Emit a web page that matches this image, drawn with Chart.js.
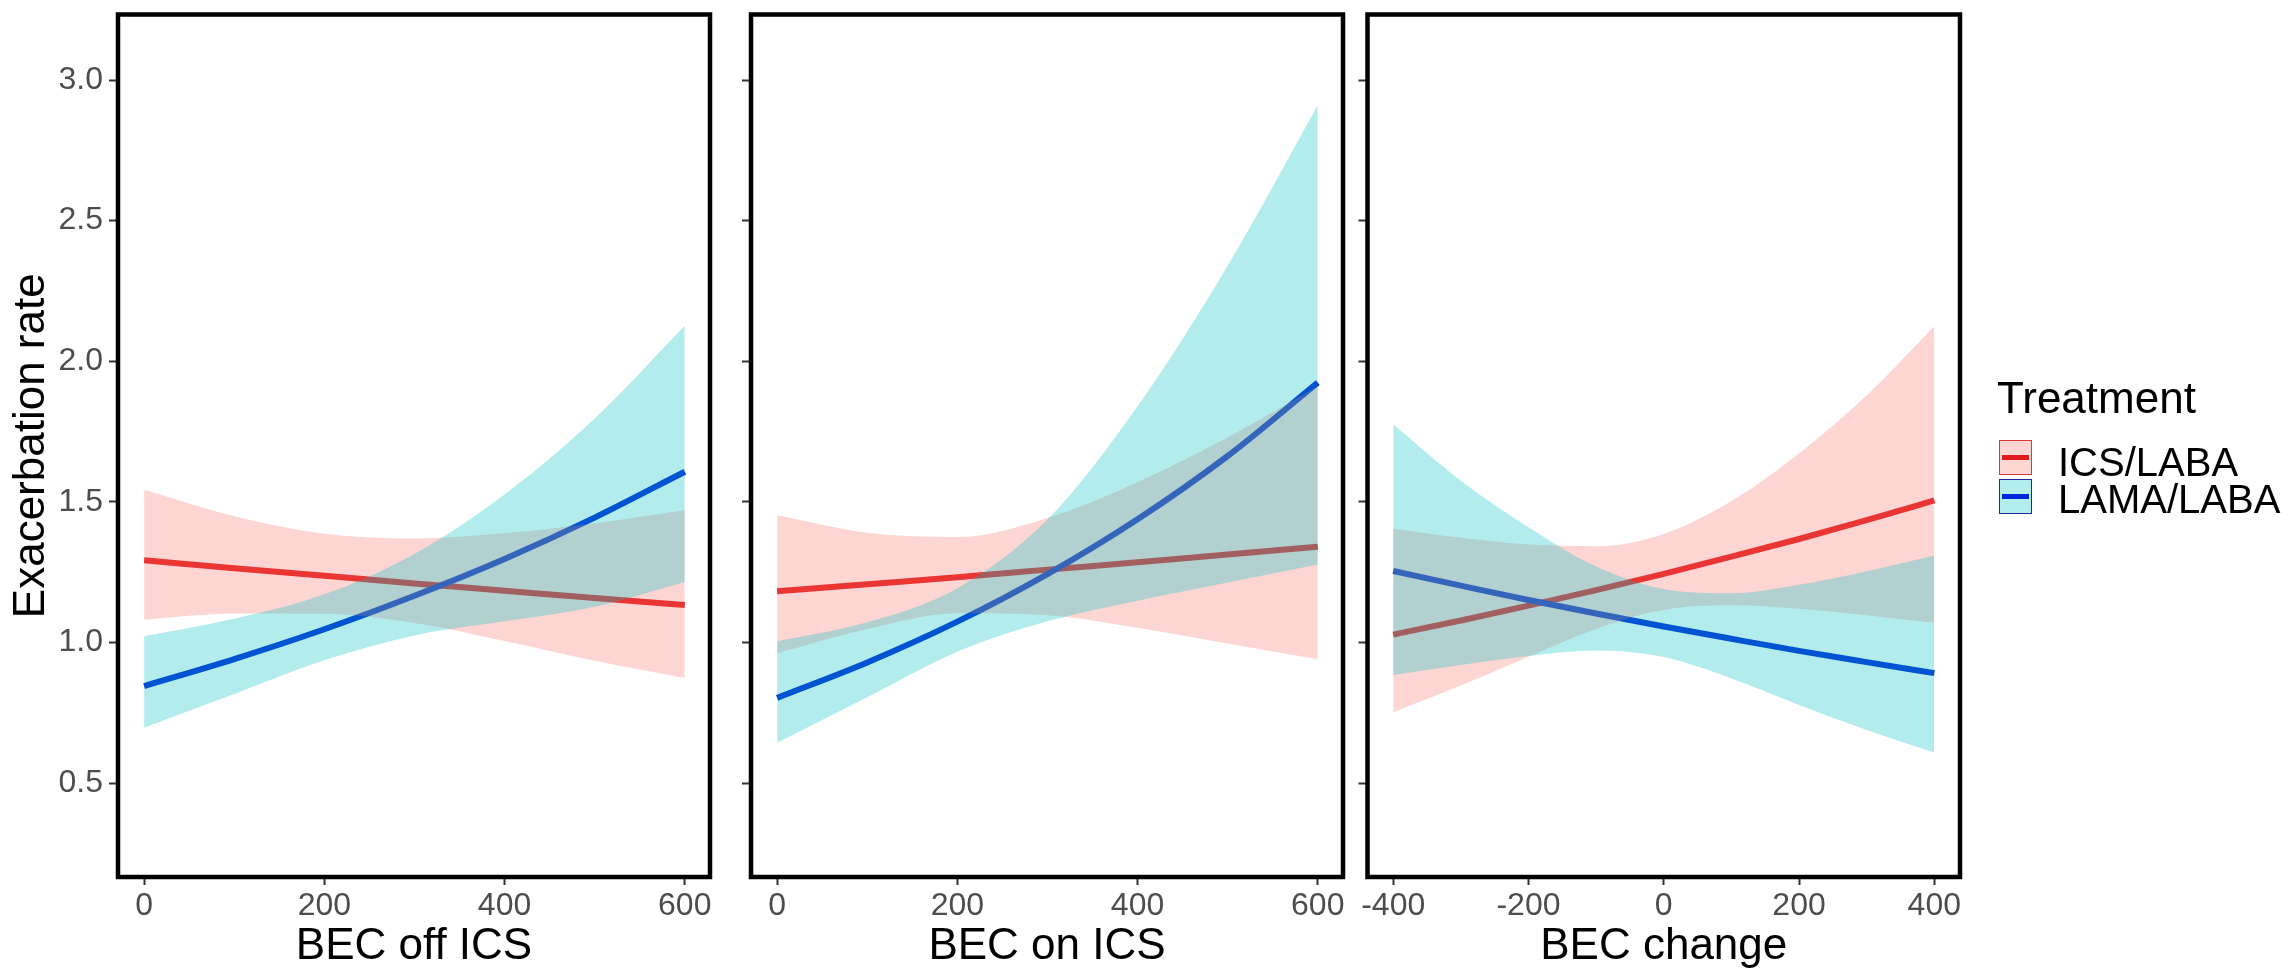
<!DOCTYPE html>
<html>
<head>
<meta charset="utf-8">
<script src="https://cdn.jsdelivr.net/npm/chart.js@4.4.1/dist/chart.umd.min.js"></script>
<style>
  html, body { margin: 0; padding: 0; background: #fff; overflow: hidden; }
  body { width: 2294px; height: 971px; position: relative; font-family: "Liberation Sans", Arial, sans-serif; }
  .pane { position: absolute; top: 0; height: 971px; }
  .leg-title { position: absolute; left: 1997px; top: 376px; font-size: 44px; line-height: 44px; color: #000; white-space: nowrap; }
  .leg-text { position: absolute; left: 2058px; font-size: 40px; line-height: 40px; color: #000; white-space: nowrap; }
  .leg-key { position: absolute; left: 1999px; width: 31px; height: 33px; box-sizing: content-box; }
  .leg-key span { position: absolute; left: 2px; right: 2px; top: 14px; height: 5px; }
</style>
</head>
<body>
<div class="pane" style="left:0px;width:730px"><canvas id="c1" width="730" height="971"></canvas></div>
<div class="pane" style="left:730px;width:620px"><canvas id="c2" width="620" height="971"></canvas></div>
<div class="pane" style="left:1350px;width:944px"><canvas id="c3" width="944" height="971"></canvas></div>

<div class="leg-title">Treatment</div>
<div class="leg-key" style="top:440px;background:rgb(253,214,211);border:1.5px solid #D83A3A"><span style="background:#E31A1C"></span></div>
<div class="leg-text" style="top:442px">ICS/LABA</div>
<div class="leg-key" style="top:479px;background:rgb(179,236,237);border:1.5px solid #1F2A9A"><span style="background:#0026D9"></span></div>
<div class="leg-text" style="top:479px">LAMA/LABA</div>

<script>
// ---------- data ----------
const seriesNames = ["ICS/LABA", "LAMA/LABA"];
const panelTitles = ["BEC off ICS", "BEC on ICS", "BEC change"];
const yTitle = "Exacerbation rate";

const xOn = [0, 100, 200, 300, 400, 500, 600];
const xChange = [-400, -300, -200, -100, 0, 100, 200, 300, 400];

const xTicksBEC = [0, 200, 400, 600];
const xTicksChange = [-400, -200, 0, 200, 400];
const yTicks = [0.5, 1.0, 1.5, 2.0, 2.5, 3.0];

// Panel 1: BEC off ICS
const icsFit1  = [1.292, 1.264, 1.237, 1.210, 1.184, 1.158, 1.133];
const icsLo1   = [1.081, 1.103, 1.102, 1.069, 1.005, 0.935, 0.874];
const icsHi1   = [1.543, 1.449, 1.387, 1.370, 1.388, 1.424, 1.470];
const lamaFit1 = [0.845, 0.941, 1.047, 1.166, 1.297, 1.444, 1.607];
const lamaLo1  = [0.697, 0.817, 0.937, 1.025, 1.075, 1.127, 1.215];
const lamaHi1  = [1.022, 1.084, 1.171, 1.315, 1.526, 1.796, 2.126];

// Panel 2: BEC on ICS
const icsFit2  = [1.182, 1.207, 1.232, 1.259, 1.285, 1.313, 1.340];
const icsLo2   = [0.962, 1.048, 1.104, 1.097, 1.052, 0.996, 0.940];
const icsHi2   = [1.452, 1.390, 1.375, 1.443, 1.570, 1.729, 1.911];
const lamaFit2 = [0.803, 0.929, 1.074, 1.243, 1.438, 1.663, 1.924];
const lamaLo2  = [0.643, 0.805, 0.967, 1.075, 1.148, 1.213, 1.277];
const lamaHi2  = [1.004, 1.072, 1.193, 1.437, 1.840, 2.340, 2.910];

// Panel 3: BEC change
const icsFit3  = [1.028, 1.078, 1.131, 1.186, 1.244, 1.305, 1.368, 1.435, 1.505];
const icsLo3   = [0.752, 0.847, 0.949, 1.048, 1.116, 1.132, 1.120, 1.097, 1.070];
const icsHi3   = [1.404, 1.372, 1.348, 1.342, 1.386, 1.503, 1.672, 1.878, 2.124];
const lamaFit3 = [1.254, 1.202, 1.151, 1.103, 1.057, 1.013, 0.970, 0.930, 0.891];
const lamaLo3  = [0.884, 0.920, 0.952, 0.971, 0.948, 0.872, 0.778, 0.689, 0.609];
const lamaHi3  = [1.776, 1.575, 1.410, 1.270, 1.190, 1.175, 1.205, 1.253, 1.309];

// ---------- styling ----------
const FONT = "'Liberation Sans', Arial, sans-serif";
const RED = "#E31A1C", BLUE = "#0026D9";
const PINK_FILL = "rgba(248,118,109,0.3)", CYAN_FILL = "rgba(0,191,196,0.3)";

function pts(xs, ys) { return xs.map((x, i) => ({ x: x, y: ys[i] })); }

function makeDatasets(xs, icsFit, icsLo, icsHi, lamaFit, lamaLo, lamaHi) {
  const common = { pointRadius: 0, cubicInterpolationMode: 'monotone' };
  return [
    Object.assign({ label: seriesNames[0] + " upper", data: pts(xs, icsHi), borderWidth: 0, borderColor: 'rgba(0,0,0,0)', backgroundColor: PINK_FILL, fill: '+1', order: 2 }, common),
    Object.assign({ label: seriesNames[0] + " lower", data: pts(xs, icsLo), borderWidth: 0, borderColor: 'rgba(0,0,0,0)', fill: false, order: 2 }, common),
    Object.assign({ label: seriesNames[1] + " upper", data: pts(xs, lamaHi), borderWidth: 0, borderColor: 'rgba(0,0,0,0)', backgroundColor: CYAN_FILL, fill: '+1', order: 1 }, common),
    Object.assign({ label: seriesNames[1] + " lower", data: pts(xs, lamaLo), borderWidth: 0, borderColor: 'rgba(0,0,0,0)', fill: false, order: 1 }, common),
    Object.assign({ label: seriesNames[0], data: pts(xs, icsFit), borderWidth: 6, borderColor: RED, fill: false, order: 11 }, common),
    Object.assign({ label: seriesNames[1], data: pts(xs, lamaFit), borderWidth: 6, borderColor: BLUE, fill: false, order: 10 }, common)
  ];
}

const boxPlugin = {
  id: 'panelBox',
  afterDraw(chart) {
    const { ctx, chartArea: a } = chart;
    ctx.save();
    ctx.strokeStyle = '#000';
    ctx.lineWidth = 4.5;
    ctx.strokeRect(a.left, a.top, a.right - a.left, a.bottom - a.top);
    ctx.restore();
  }
};

function makeChart(id, datasets, opt) {
  return new Chart(document.getElementById(id), {
    type: 'line',
    data: { datasets: datasets },
    plugins: [boxPlugin],
    options: {
      responsive: false,
      animation: false,
      devicePixelRatio: 1,
      layout: { padding: { left: 0, top: 14.5, right: opt.padRight, bottom: 0 } },
      plugins: { legend: { display: false }, tooltip: { enabled: false } },
      scales: {
        x: {
          type: 'linear', min: opt.xMin, max: opt.xMax,
          afterBuildTicks: s => { s.ticks = opt.xTicks.map(v => ({ value: v })); },
          afterFit: s => { s.height = 94; s.paddingLeft = 0; s.paddingRight = 0; },
          grid: { drawOnChartArea: false, drawTicks: true, tickLength: 8, tickWidth: 2, tickColor: '#333' },
          border: { display: false },
          ticks: { font: { family: FONT, size: 32 }, color: '#4d4d4d', padding: 2, maxRotation: 0, autoSkip: false, callback: v => String(v) },
          title: { display: true, text: opt.xTitle, color: '#000', font: { family: FONT, size: 44, lineHeight: 1.1 }, padding: { top: 0, bottom: 0 } }
        },
        y: {
          type: 'linear', min: 0.166, max: 3.233,
          afterBuildTicks: s => { s.ticks = yTicks.map(v => ({ value: v })); },
          afterFit: s => { s.width = opt.yWidth; s.paddingTop = 0; s.paddingBottom = 0; },
          grid: { drawOnChartArea: false, drawTicks: true, tickLength: 9, tickWidth: 2, tickColor: '#333' },
          border: { display: false },
          ticks: { display: opt.yLabels, font: { family: FONT, size: 32 }, color: '#4d4d4d', padding: 6, callback: v => Number(v).toFixed(1) },
          title: { display: opt.yLabels, text: yTitle, color: '#000', font: { family: FONT, size: 44, lineHeight: 1.2 }, padding: { top: 5.4, bottom: 0 } }
        }
      }
    }
  });
}

makeChart('c1', makeDatasets(xOn, icsFit1, icsLo1, icsHi1, lamaFit1, lamaLo1, lamaHi1),
  { padRight: 20, yWidth: 118, yLabels: true, xMin: -29, xMax: 628, xTicks: xTicksBEC, xTitle: panelTitles[0] });
makeChart('c2', makeDatasets(xOn, icsFit2, icsLo2, icsHi2, lamaFit2, lamaLo2, lamaHi2),
  { padRight: 7, yWidth: 21, yLabels: false, xMin: -29, xMax: 628, xTicks: xTicksBEC, xTitle: panelTitles[1] });
makeChart('c3', makeDatasets(xChange, icsFit3, icsLo3, icsHi3, lamaFit3, lamaLo3, lamaHi3),
  { padRight: 334, yWidth: 17.5, yLabels: false, xMin: -438, xMax: 438, xTicks: xTicksChange, xTitle: panelTitles[2] });
</script>
</body>
</html>
